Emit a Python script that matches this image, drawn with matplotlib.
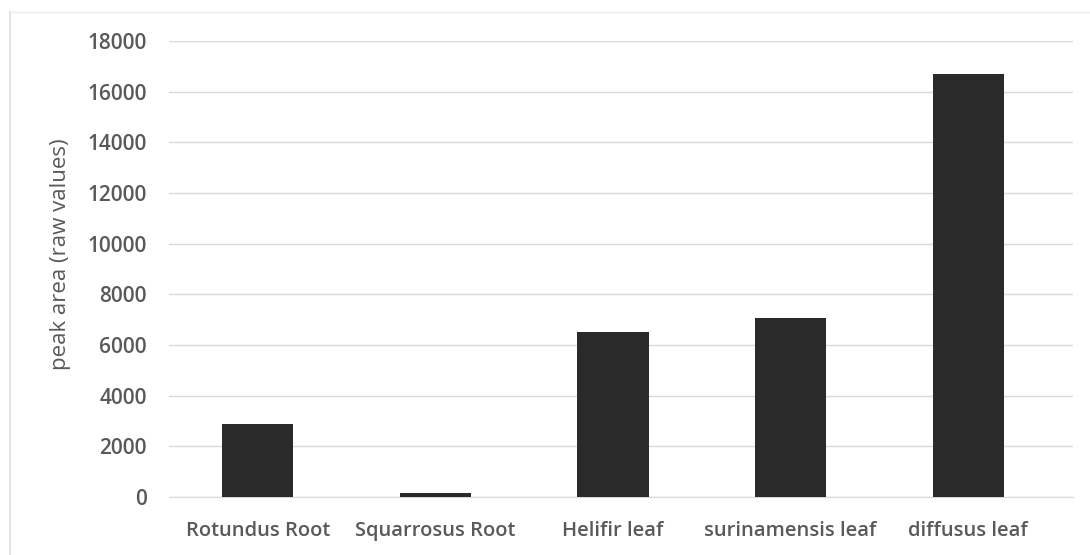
import matplotlib
matplotlib.use("Agg")
import matplotlib.pyplot as plt
from matplotlib.lines import Line2D

categories = ["Rotundus Root", "Squarrosus Root", "Helifir leaf",
              "surinamensis leaf", "diffusus leaf"]
peak_area = [2900, 150, 6500, 7050, 16700]
y_ticks = [0, 2000, 4000, 6000, 8000, 10000, 12000, 14000, 16000, 18000]

plt.rcParams["font.family"] = ["Open Sans", "DejaVu Sans"]

W, H = 1090, 555
fig = plt.figure(figsize=(W / 100, H / 100), dpi=100)
fig.patch.set_facecolor("white")

# faint frame edges around the chart area (left and top)
fig.add_artist(Line2D([10 / W, 10 / W], [0, 1 - 12 / H], transform=fig.transFigure,
                      color="#dcdcdc", linewidth=1.2))
fig.add_artist(Line2D([10 / W, 1], [1 - 12 / H, 1 - 12 / H], transform=fig.transFigure,
                      color="#ececec", linewidth=1.0))

left, right, top, bottom = 169, 1073, 41, 497
ax = fig.add_axes([left / W, 1 - bottom / H, (right - left) / W, (bottom - top) / H])
x = list(range(len(categories)))
ax.bar(x, peak_area, width=0.40, color="#2a2a2a", zorder=3)

ax.set_xlim(-0.5, 4.59)
ax.set_ylim(0, 18000)
ax.set_yticks(y_ticks)
ax.set_yticklabels([str(v) for v in y_ticks], fontsize=15, color="#595959",
                   fontweight="semibold")
ax.set_xticks(x)
ax.set_xticklabels(categories, fontsize=14.5, color="#595959", fontweight="semibold")
ax.tick_params(axis="both", length=0)
ax.tick_params(axis="y", pad=16)
ax.tick_params(axis="x", pad=17.5)

ax.grid(axis="y", color="#d9d9d9", linewidth=1.0, zorder=0)
for s in ["top", "right", "left"]:
    ax.spines[s].set_visible(False)
ax.spines["bottom"].set_color("#d9d9d9")

ax.set_ylabel("peak area (raw values)", fontsize=16, color="#595959")
ax.yaxis.set_label_coords((71 - left) / (right - left), (bottom - 254) / (bottom - top))

fig.savefig("out.png", dpi=100, facecolor="white")
